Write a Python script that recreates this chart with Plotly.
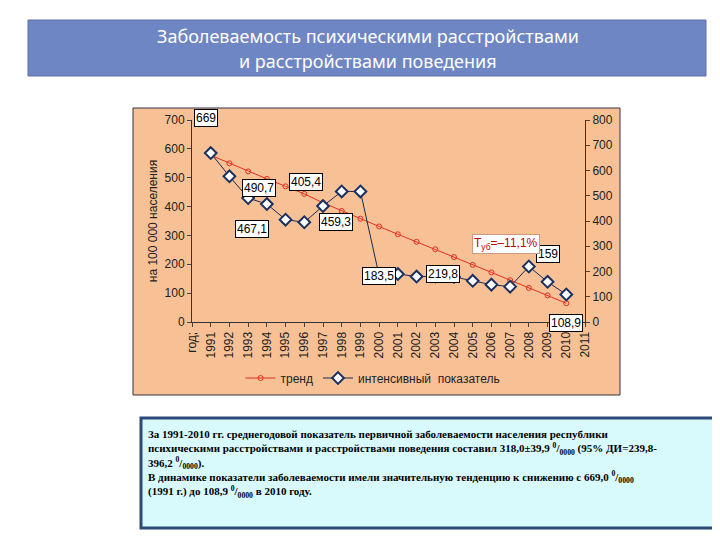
import plotly.graph_objects as go

years = list(range(1991, 2011))
intensive = [669, 577, 490.7, 467.1, 405.4, 395, 459.3, 517, 517, 183.5,
             190, 180, 180, 179, 163, 148, 140, 219.8, 159, 108.9]
trend = [578, 550, 522, 496, 470, 444, 413, 385, 358, 331,
         304, 278, 252, 225, 198, 172, 145, 118, 92, 65]
tick_years = list(range(1990, 2012))
tick_text = ["год;"] + [str(y) for y in range(1991, 2012)]

# labelled points: (year, value, label offset x, offset y, text)
labels = [(1991, 669, -5, -35, "669"), (1992, 577, 30, 12, "490,7"),
          (1995, 405.4, 20, -38, "405,4"), (1994, 467.1, -15, 25, "467,1"),
          (1996, 395, 32, 0, "459,3"), (2000, 183.5, 0, 0, "183,5"),
          (2001, 190, 45, 0, "219,8"), (2009, 159, 0, -28, "159"),
          (2010, 108.9, 0, 28, "108,9")]

W, H = 720, 540
def px(x): return x / W
def py(y): return 1 - y / H

fig = go.Figure()
fig.add_trace(go.Scatter(x=years, y=trend, name="тренд", mode="lines+markers",
                         line=dict(color="#e03020", width=1),
                         marker=dict(symbol="circle-open", size=5, color="#e03020")))
fig.add_trace(go.Scatter(x=years, y=intensive, name="интенсивный  показатель",
                         mode="lines+markers", yaxis="y2",
                         line=dict(color="#1a2a50", width=1),
                         marker=dict(symbol="diamond", size=9, color="white",
                                     line=dict(color="#1a3060", width=2))))

for x, v, ax, ay, t in labels:
    fig.add_annotation(x=x, y=v, yref="y2", text=t, showarrow=True, arrowcolor="rgba(0,0,0,0)",
                       ax=ax, ay=ay, bgcolor="white", bordercolor="black", borderwidth=1,
                       font=dict(size=12, color="black", family="Liberation Sans Narrow, Liberation Sans"))
fig.add_annotation(x=2006.8, y=270, text="Т<sub>уб</sub>=–11,1%", showarrow=False,
                   bgcolor="white", bordercolor="#cc9980", borderwidth=1,
                   font=dict(size=12, color="#c00000", family="Liberation Sans Narrow, Liberation Sans"))

# slide decorations
fig.add_shape(type="rect", xref="paper", yref="paper", x0=px(20), x1=px(698), y0=py(68), y1=py(12),
              fillcolor="#6f86c4", line=dict(color="#5a70b0", width=1), layer="below")
fig.add_shape(type="rect", xref="paper", yref="paper", x0=px(125), x1=px(612), y0=py(387), y1=py(100),
              fillcolor="#f8c195", line=dict(color="#334", width=1), layer="below")
fig.add_shape(type="rect", xref="paper", yref="paper", x0=px(133), x1=px(718), y0=py(520), y1=py(410),
              fillcolor="#d8fafc", line=dict(color="#2b4a7a", width=3), layer="below")

fig.add_annotation(xref="paper", yref="paper", x=0.5, y=py(28), yanchor="middle", showarrow=False,
                   text="Заболеваемость психическими расстройствами",
                   font=dict(size=18, color="white", family="Noto Sans"))
fig.add_annotation(xref="paper", yref="paper", x=0.5, y=py(53), yanchor="middle", showarrow=False,
                   text="и расстройствами поведения",
                   font=dict(size=18, color="white", family="Noto Sans"))
fig.add_annotation(xref="paper", yref="paper", x=px(138), y=py(418), xanchor="left", yanchor="top",
                   showarrow=False, align="left",
                   text="<b>За 1991-2010 гг. среднегодовой показатель первичной заболеваемости населения республики<br>"
                        "психическими расстройствами и расстройствами поведения составил 318,0±39,9 <sup>0</sup>/<sub>0000</sub> (95% ДИ=239,8-<br>"
                        "396,2 <sup>0</sup>/<sub>0000</sub>).<br>"
                        "В динамике показатели заболеваемости имели значительную тенденцию к снижению с 669,0 <sup>0</sup>/<sub>0000</sub><br>"
                        "(1991 г.) до 108,9 <sup>0</sup>/<sub>0000</sub> в 2010 году.</b>",
                   font=dict(size=11, color="black", family="Liberation Serif"))

fig.update_layout(
    width=W, height=H, margin=dict(l=0, r=0, t=0, b=0, autoexpand=False),
    paper_bgcolor="white", plot_bgcolor="rgba(0,0,0,0)",
    font=dict(family="Liberation Sans", color="#222"),
    xaxis=dict(domain=[px(184), px(577)], range=[1990, 2011], tickvals=tick_years, ticktext=tick_text,
               tickangle=-90, showgrid=False, showline=True, linecolor="#333", ticks="outside",
               ticklen=4, tickfont=dict(size=12), zeroline=False, automargin=False),
    yaxis=dict(domain=[py(314), py(112)], range=[0, 700], dtick=100, showgrid=False, showline=True,
               linecolor="#333", ticks="outside", ticklen=4, tickfont=dict(size=12), zeroline=False,
               automargin=False, title=dict(text="на 100 000 населения", font=dict(size=12), standoff=4)),
    yaxis2=dict(overlaying="y", side="right", range=[0, 800], dtick=100, showgrid=False,
                showline=True, linecolor="#333", ticks="outside", ticklen=4, automargin=False,
                tickfont=dict(size=12), zeroline=False, anchor="x"),
    legend=dict(orientation="h", x=px(365), xanchor="center", y=py(370), yanchor="middle",
                bgcolor="rgba(0,0,0,0)", font=dict(size=12)),
)

fig.write_html("out.html")
